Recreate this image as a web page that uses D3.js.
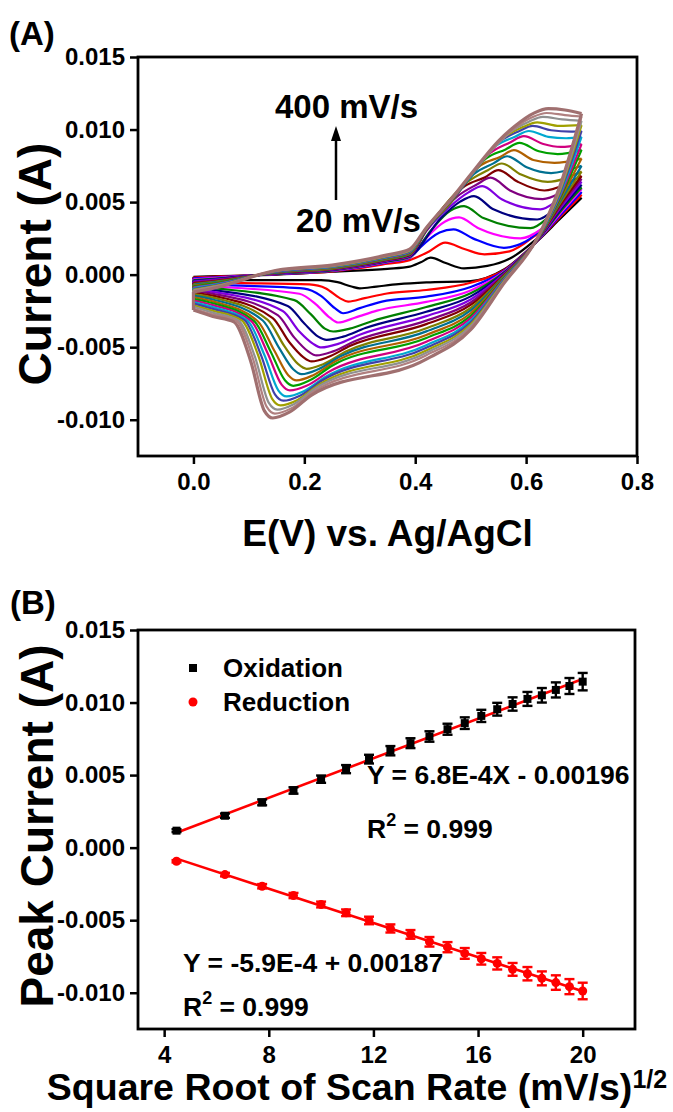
<!DOCTYPE html>
<html>
<head>
<meta charset="utf-8">
<script src="https://cdn.jsdelivr.net/npm/d3@7"></script>
<style>
  body { margin: 0; background: #fff; }
  svg text { font-family: "Liberation Sans", Arial, sans-serif; font-weight: bold; fill: #000; white-space: pre; }
</style>
</head>
<body>
<svg id="chart" width="673" height="1112"></svg>
<script>
// ---- data (currents in mA, converted to A on the tick labels) ----
const scanRates = [20, 40, 60, 80, 100, 120, 140, 160, 180, 200, 220, 240, 260, 280, 300, 320, 340, 360, 380, 400];

const oxidationPeak = [1.17, 2.20, 3.12, 3.94, 4.72, 5.41, 6.10, 6.68, 7.20, 7.66, 8.16, 8.58, 9.08, 9.54, 9.90, 10.25, 10.50, 10.87, 11.14, 11.44];
const oxidationErr = [0.10, 0.15, 0.20, 0.22, 0.25, 0.28, 0.30, 0.32, 0.34, 0.36, 0.38, 0.40, 0.42, 0.44, 0.46, 0.48, 0.50, 0.52, 0.55, 0.60];
const reductionPeak = [-0.94, -1.86, -2.66, -3.30, -3.92, -4.49, -5.02, -5.57, -5.98, -6.49, -6.86, -7.29, -7.66, -7.98, -8.39, -8.69, -9.01, -9.30, -9.58, -9.88];
const reductionErr = [0.08, 0.12, 0.15, 0.18, 0.20, 0.23, 0.26, 0.28, 0.30, 0.33, 0.35, 0.37, 0.40, 0.42, 0.44, 0.46, 0.48, 0.50, 0.52, 0.57];

const cvColors = ['#000000', '#ff0000', '#0000ff', '#ff00ff', '#008000', '#000080', '#8000e0', '#800080', '#800000', '#808000',
  '#007090', '#b06000', '#00a000', '#d0007f', '#00a8d0', '#4040a8', '#a0a000', '#909090', '#b08080', '#a07070'];

// anodic (forward) branches, [E (V), I (mA)], one row per scan rate
const cvForward = [
  [[0,-0.15],[0.04,-0.10],[0.15,0.00],[0.25,0.20],[0.35,0.40],[0.39,0.55],[0.41,0.85],[0.428,1.17],[0.455,0.80],[0.488,0.43],[0.53,0.60],[0.575,1.20],[0.62,2.50],[0.66,3.85],[0.70,5.30]],
  [[0,-0.21],[0.04,-0.14],[0.15,0.02],[0.25,0.22],[0.35,0.75],[0.39,1.00],[0.425,1.60],[0.454,2.20],[0.49,1.75],[0.525,1.40],[0.57,1.60],[0.62,2.80],[0.66,4.00],[0.70,5.50]],
  [[0,-0.26],[0.04,-0.18],[0.15,0.03],[0.25,0.25],[0.35,0.85],[0.39,1.15],[0.409,1.88],[0.444,2.90],[0.469,3.12],[0.504,2.50],[0.56,1.85],[0.60,2.30],[0.65,3.90],[0.70,5.70]],
  [[0,-0.32],[0.04,-0.23],[0.15,0.05],[0.25,0.27],[0.35,0.88],[0.39,1.19],[0.419,2.50],[0.454,3.66],[0.479,3.94],[0.514,3.20],[0.59,2.50],[0.63,3.20],[0.665,4.40],[0.70,5.90]],
  [[0,-0.37],[0.04,-0.27],[0.15,0.06],[0.25,0.30],[0.35,0.91],[0.39,1.22],[0.428,3.03],[0.463,4.39],[0.488,4.72],[0.523,3.90],[0.608,3.20],[0.645,4.10],[0.70,6.00]],
  [[0,-0.43],[0.04,-0.31],[0.15,0.08],[0.25,0.32],[0.35,0.94],[0.39,1.26],[0.446,3.88],[0.481,5.03],[0.506,5.41],[0.541,4.50],[0.62,3.80],[0.655,4.60],[0.70,6.20]],
  [[0,-0.48],[0.04,-0.35],[0.15,0.10],[0.25,0.34],[0.35,0.97],[0.39,1.29],[0.42,3.00],[0.461,4.63],[0.496,5.67],[0.521,6.10],[0.556,5.20],[0.626,4.50],[0.66,5.20],[0.70,6.40]],
  [[0,-0.54],[0.04,-0.39],[0.15,0.11],[0.25,0.37],[0.35,1.00],[0.39,1.33],[0.42,3.05],[0.476,5.40],[0.511,6.21],[0.536,6.68],[0.571,5.80],[0.63,5.20],[0.665,5.70],[0.70,6.60]],
  [[0,-0.59],[0.04,-0.44],[0.15,0.13],[0.25,0.39],[0.35,1.03],[0.39,1.36],[0.42,3.08],[0.49,6.12],[0.525,6.70],[0.55,7.20],[0.585,6.40],[0.633,5.80],[0.67,6.20],[0.70,6.80]],
  [[0,-0.65],[0.04,-0.48],[0.15,0.14],[0.25,0.42],[0.35,1.06],[0.39,1.40],[0.42,3.10],[0.496,6.44],[0.531,7.20],[0.556,7.66],[0.591,6.90],[0.639,6.40],[0.70,7.10]],
  [[0,-0.70],[0.04,-0.52],[0.15,0.16],[0.25,0.44],[0.35,1.09],[0.39,1.43],[0.42,3.12],[0.46,4.75],[0.506,6.94],[0.541,7.67],[0.566,8.16],[0.601,7.40],[0.645,7.00],[0.70,7.50]],
  [[0,-0.76],[0.04,-0.56],[0.15,0.18],[0.25,0.46],[0.35,1.12],[0.39,1.47],[0.42,3.14],[0.46,4.78],[0.518,7.53],[0.553,8.11],[0.578,8.58],[0.613,7.90],[0.651,7.70],[0.70,8.00]],
  [[0,-0.81],[0.04,-0.60],[0.15,0.19],[0.25,0.49],[0.35,1.15],[0.39,1.50],[0.42,3.16],[0.47,5.30],[0.528,8.01],[0.563,8.63],[0.588,9.08],[0.623,8.50],[0.657,8.30],[0.70,8.60]],
  [[0,-0.87],[0.04,-0.65],[0.15,0.21],[0.25,0.51],[0.35,1.18],[0.39,1.54],[0.42,3.17],[0.47,5.33],[0.536,8.41],[0.571,9.11],[0.596,9.54],[0.631,9.00],[0.663,8.80],[0.70,9.00]],
  [[0,-0.92],[0.04,-0.69],[0.15,0.22],[0.25,0.54],[0.35,1.21],[0.39,1.57],[0.42,3.18],[0.47,5.36],[0.50,6.78],[0.545,8.85],[0.58,9.50],[0.605,9.90],[0.64,9.50],[0.672,9.40],[0.70,9.50]],
  [[0,-0.98],[0.04,-0.73],[0.15,0.24],[0.25,0.56],[0.35,1.24],[0.39,1.61],[0.42,3.19],[0.47,5.38],[0.50,6.80],[0.552,9.16],[0.587,9.89],[0.612,10.25],[0.645,9.95],[0.681,9.85],[0.70,9.90]],
  [[0,-1.03],[0.04,-0.77],[0.15,0.26],[0.25,0.58],[0.35,1.27],[0.39,1.64],[0.42,3.20],[0.47,5.40],[0.50,6.83],[0.56,9.44],[0.595,10.19],[0.62,10.50],[0.66,10.25],[0.70,10.30]],
  [[0,-1.09],[0.04,-0.81],[0.15,0.27],[0.25,0.61],[0.35,1.30],[0.39,1.68],[0.42,3.21],[0.47,5.42],[0.50,6.85],[0.55,9.05],[0.57,9.78],[0.605,10.54],[0.63,10.87],[0.665,10.70],[0.70,10.60]],
  [[0,-1.14],[0.04,-0.86],[0.15,0.29],[0.25,0.63],[0.35,1.33],[0.39,1.71],[0.42,3.22],[0.47,5.44],[0.50,6.88],[0.55,9.12],[0.577,10.03],[0.612,10.86],[0.637,11.14],[0.67,11.00],[0.70,10.90]],
  [[0,-1.20],[0.04,-0.90],[0.15,0.30],[0.25,0.66],[0.35,1.36],[0.39,1.75],[0.42,3.24],[0.47,5.46],[0.50,6.90],[0.55,9.20],[0.58,10.25],[0.615,11.15],[0.64,11.44],[0.67,11.35],[0.70,11.10]]
];

// cathodic (reverse) branches, listed from 0 V up to the 0.7 V vertex
const cvReverse = [
  [[0,-0.35],[0.035,-0.38],[0.23,-0.38],[0.26,-0.52],[0.285,-0.82],[0.30,-0.94],[0.33,-0.82],[0.37,-0.66],[0.42,-0.54],[0.50,-0.45],[0.56,0.35],[0.62,2.30],[0.66,3.80],[0.70,5.30]],
  [[0,-0.46],[0.035,-0.54],[0.209,-0.67],[0.239,-0.95],[0.264,-1.62],[0.279,-1.86],[0.309,-1.62],[0.349,-1.30],[0.42,-1.06],[0.50,-0.56],[0.56,0.30],[0.62,2.31],[0.66,3.92],[0.70,5.50]],
  [[0,-0.57],[0.035,-0.67],[0.20,-0.96],[0.23,-1.46],[0.255,-2.31],[0.27,-2.66],[0.30,-2.31],[0.34,-1.86],[0.42,-1.52],[0.50,-0.85],[0.56,0.25],[0.62,2.32],[0.66,4.03],[0.70,5.70]],
  [[0,-0.68],[0.035,-0.80],[0.191,-1.32],[0.221,-2.05],[0.246,-2.97],[0.261,-3.30],[0.291,-2.97],[0.331,-2.48],[0.42,-1.88],[0.50,-1.09],[0.56,0.20],[0.62,2.33],[0.66,4.15],[0.70,5.90]],
  [[0,-0.79],[0.035,-0.93],[0.182,-1.76],[0.212,-2.74],[0.237,-3.72],[0.252,-3.92],[0.282,-3.72],[0.322,-3.21],[0.42,-2.23],[0.50,-1.29],[0.56,0.15],[0.62,2.34],[0.66,4.26],[0.70,6.00]],
  [[0,-0.90],[0.035,-1.06],[0.17,-2.16],[0.20,-3.37],[0.225,-4.27],[0.24,-4.49],[0.27,-4.27],[0.31,-3.68],[0.42,-2.56],[0.50,-1.50],[0.56,0.10],[0.62,2.35],[0.66,4.38],[0.70,6.20]],
  [[0,-1.01],[0.035,-1.19],[0.161,-2.51],[0.191,-3.92],[0.216,-4.77],[0.231,-5.02],[0.261,-4.77],[0.301,-4.12],[0.42,-2.86],[0.50,-1.71],[0.56,0.05],[0.62,2.36],[0.66,4.50],[0.70,6.40]],
  [[0,-1.12],[0.035,-1.32],[0.152,-2.79],[0.182,-4.34],[0.207,-5.29],[0.222,-5.57],[0.252,-5.29],[0.292,-4.57],[0.42,-3.17],[0.50,-1.92],[0.56,0.00],[0.62,2.37],[0.66,4.61],[0.70,6.60]],
  [[0,-1.23],[0.035,-1.45],[0.143,-2.99],[0.173,-4.66],[0.198,-5.68],[0.213,-5.98],[0.243,-5.68],[0.283,-4.90],[0.42,-3.41],[0.50,-2.09],[0.56,-0.05],[0.62,2.38],[0.66,4.73],[0.70,6.80]],
  [[0,-1.34],[0.035,-1.58],[0.134,-3.12],[0.164,-4.93],[0.189,-6.17],[0.204,-6.49],[0.234,-6.17],[0.274,-5.32],[0.42,-3.70],[0.50,-2.30],[0.56,-0.10],[0.62,2.39],[0.66,4.84],[0.70,7.10]],
  [[0,-1.45],[0.035,-1.71],[0.125,-3.16],[0.155,-5.08],[0.18,-6.52],[0.195,-6.86],[0.225,-6.52],[0.265,-5.63],[0.42,-3.91],[0.50,-2.47],[0.56,-0.15],[0.62,2.40],[0.66,4.96],[0.70,7.50]],
  [[0,-1.56],[0.035,-1.84],[0.116,-3.21],[0.146,-5.25],[0.171,-6.93],[0.186,-7.29],[0.216,-6.93],[0.256,-5.98],[0.42,-4.16],[0.50,-2.66],[0.56,-0.20],[0.62,2.41],[0.66,5.08],[0.70,8.00]],
  [[0,-1.67],[0.035,-1.97],[0.11,-3.22],[0.14,-5.36],[0.165,-7.28],[0.18,-7.66],[0.21,-7.28],[0.25,-6.28],[0.42,-4.37],[0.50,-2.84],[0.56,-0.25],[0.62,2.42],[0.66,5.19],[0.70,8.60]],
  [[0,-1.78],[0.035,-2.10],[0.104,-3.19],[0.134,-5.43],[0.159,-7.58],[0.174,-7.98],[0.204,-7.66],[0.244,-6.70],[0.42,-4.63],[0.50,-3.00],[0.56,-0.30],[0.62,2.43],[0.66,5.31],[0.70,9.00]],
  [[0,-1.89],[0.035,-2.23],[0.098,-3.19],[0.128,-5.54],[0.153,-7.97],[0.168,-8.39],[0.198,-8.05],[0.238,-7.05],[0.42,-4.87],[0.50,-3.17],[0.56,-0.35],[0.62,2.44],[0.66,5.42],[0.70,9.50]],
  [[0,-2.00],[0.035,-2.36],[0.092,-3.13],[0.122,-5.56],[0.147,-8.26],[0.162,-8.69],[0.192,-8.34],[0.232,-7.30],[0.42,-5.04],[0.50,-3.30],[0.56,-0.40],[0.62,2.45],[0.66,5.54],[0.70,9.90]],
  [[0,-2.11],[0.035,-2.49],[0.087,-3.15],[0.117,-5.59],[0.142,-8.56],[0.157,-9.01],[0.187,-8.65],[0.227,-7.57],[0.42,-5.23],[0.50,-3.43],[0.56,-0.45],[0.62,2.46],[0.66,5.66],[0.70,10.30]],
  [[0,-2.22],[0.035,-2.62],[0.081,-3.16],[0.111,-5.67],[0.136,-8.84],[0.151,-9.30],[0.181,-8.93],[0.221,-7.81],[0.42,-5.39],[0.50,-3.55],[0.56,-0.50],[0.62,2.47],[0.66,5.77],[0.70,10.60]],
  [[0,-2.33],[0.035,-2.75],[0.077,-3.16],[0.107,-5.75],[0.132,-9.10],[0.147,-9.58],[0.177,-9.20],[0.217,-8.05],[0.42,-5.56],[0.50,-3.68],[0.56,-0.55],[0.62,2.48],[0.66,5.89],[0.70,10.90]],
  [[0,-2.44],[0.035,-2.88],[0.073,-3.26],[0.103,-5.93],[0.128,-9.39],[0.143,-9.88],[0.173,-9.48],[0.213,-8.30],[0.42,-5.83],[0.50,-3.80],[0.56,-0.60],[0.62,2.50],[0.66,6.00],[0.70,11.10]]
];

const currentTicks = [-10, -5, 0, 5, 10, 15];
const potentialTicks = [0, 0.2, 0.4, 0.6, 0.8];
const rootRateTicks = [4, 8, 12, 16, 20];
const seriesNames = ['Oxidation', 'Reduction'];
const rateLabels = ['400 mV/s', '20 mV/s'];

// ---- layout ----
const svg = d3.select('#chart');
const plotA = { left: 138, right: 637, top: 57, bottom: 456 };
const plotB = { left: 138, right: 635, top: 630, bottom: 1029 };

const xA = d3.scaleLinear().domain([-0.1, 0.8]).range([plotA.left, plotA.right]);
const yA = d3.scaleLinear().domain([-12.5, 15]).range([plotA.bottom, plotA.top]);
const xB = d3.scaleLinear().domain([3, 22]).range([plotB.left, plotB.right]);
const yB = d3.scaleLinear().domain([-12.5, 15]).range([plotB.bottom, plotB.top]);

const fmtAmp = d => (d / 1000).toFixed(3);

function drawAxes(box, x, y, xTicks, xFmt) {
  const g = svg.append('g');

  g.append('g')
    .attr('transform', 'translate(0,' + box.bottom + ')')
    .call(d3.axisBottom(x).tickValues(xTicks).tickFormat(xFmt).tickSize(8).tickSizeOuter(0).tickPadding(9))
    .call(s => s.select('.domain').remove())
    .call(s => s.selectAll('line').attr('stroke', '#000').attr('stroke-width', 2.5))
    .call(s => s.selectAll('text').attr('font-size', 24).attr('fill', '#000'));

  g.append('g')
    .attr('transform', 'translate(' + box.left + ',0)')
    .call(d3.axisLeft(y).tickValues(currentTicks).tickFormat(fmtAmp).tickSize(8).tickSizeOuter(0).tickPadding(5))
    .call(s => s.select('.domain').remove())
    .call(s => s.selectAll('line').attr('stroke', '#000').attr('stroke-width', 2.5))
    .call(s => s.selectAll('text').attr('font-size', 24).attr('fill', '#000'));

  g.append('rect')
    .attr('x', box.left).attr('y', box.top)
    .attr('width', box.right - box.left).attr('height', box.bottom - box.top)
    .attr('fill', 'none').attr('stroke', '#000').attr('stroke-width', 2.8);
  return g;
}

// ---- panel A: cyclic voltammograms ----
const cvLine = d3.line()
  .x(d => xA(d[0]))
  .y(d => yA(d[1]))
  .curve(d3.curveMonotoneX);

const cvLayer = svg.append('g').attr('fill', 'none');
cvForward.forEach((fwd, i) => {
  const rev = cvReverse[i];
  const w = i === cvForward.length - 1 ? 3.2 : 2.2;
  const g = cvLayer.append('g')
    .attr('stroke', cvColors[i])
    .attr('stroke-width', w);
  g.append('line')
    .attr('x1', xA(0)).attr('x2', xA(0))
    .attr('y1', yA(fwd[0][1])).attr('y2', yA(rev[0][1]));
  g.append('path').attr('d', cvLine(rev));
  g.append('path').attr('d', cvLine(fwd));
});

drawAxes(plotA, xA, yA, potentialTicks, d => d.toFixed(1));

svg.append('text').attr('x', 9).attr('y', 45).attr('font-size', 33).text('(A)');

svg.append('text')
  .attr('x', 275).attr('y', 118).attr('font-size', 33)
  .text(rateLabels[0]);
svg.append('text')
  .attr('x', 296).attr('y', 232).attr('font-size', 33)
  .text(rateLabels[1]);
svg.append('line')
  .attr('x1', 336).attr('x2', 336).attr('y1', 200).attr('y2', 138)
  .attr('stroke', '#000').attr('stroke-width', 2.5);
svg.append('path')
  .attr('d', 'M336,126 L331,141 L341,141 Z')
  .attr('fill', '#000');

svg.append('text')
  .attr('transform', 'translate(51,264) rotate(-90)')
  .attr('text-anchor', 'middle').attr('font-size', 46)
  .text('Current (A)');
svg.append('text')
  .attr('x', (plotA.left + plotA.right) / 2).attr('y', 546)
  .attr('text-anchor', 'middle').attr('font-size', 37)
  .text('E(V) vs. Ag/AgCl');

// ---- panel B: peak current vs sqrt(scan rate) ----
const rootRate = scanRates.map(Math.sqrt);

function linearFit(xs, ys) {
  const mx = d3.mean(xs), my = d3.mean(ys);
  const sxy = d3.sum(xs, (v, i) => (v - mx) * (ys[i] - my));
  const sxx = d3.sum(xs, v => (v - mx) * (v - mx));
  const slope = sxy / sxx;
  return { slope, intercept: my - slope * mx };
}

drawAxes(plotB, xB, yB, rootRateTicks, d => d);

const series = [
  { name: seriesNames[0], values: oxidationPeak, err: oxidationErr, color: '#000', shape: 'square' },
  { name: seriesNames[1], values: reductionPeak, err: reductionErr, color: '#ff0000', shape: 'circle' }
];

const layerB = svg.append('g');
series.forEach(s => {
  const fit = linearFit(rootRate, s.values);
  const ext = d3.extent(rootRate);
  layerB.append('line')
    .attr('x1', xB(ext[0])).attr('y1', yB(fit.slope * ext[0] + fit.intercept))
    .attr('x2', xB(ext[1])).attr('y2', yB(fit.slope * ext[1] + fit.intercept))
    .attr('stroke', '#ff0000').attr('stroke-width', 2.6);
});

series.forEach(s => {
  const pts = layerB.append('g')
    .selectAll('g')
    .data(s.values.map((v, i) => ({ x: rootRate[i], y: v, e: s.err[i] })))
    .join('g')
    .attr('stroke', s.color).attr('fill', s.color).attr('stroke-width', 2.4);

  pts.append('line')
    .attr('x1', d => xB(d.x)).attr('x2', d => xB(d.x))
    .attr('y1', d => yB(d.y - d.e)).attr('y2', d => yB(d.y + d.e));
  pts.append('line')
    .attr('x1', d => xB(d.x) - 5).attr('x2', d => xB(d.x) + 5)
    .attr('y1', d => yB(d.y + d.e)).attr('y2', d => yB(d.y + d.e));
  pts.append('line')
    .attr('x1', d => xB(d.x) - 5).attr('x2', d => xB(d.x) + 5)
    .attr('y1', d => yB(d.y - d.e)).attr('y2', d => yB(d.y - d.e));
  if (s.shape === 'square') {
    pts.append('rect')
      .attr('x', d => xB(d.x) - 4).attr('y', d => yB(d.y) - 4)
      .attr('width', 8).attr('height', 8).attr('stroke', 'none');
  } else {
    pts.append('circle')
      .attr('cx', d => xB(d.x)).attr('cy', d => yB(d.y))
      .attr('r', 4.5).attr('stroke', 'none');
  }
});

// legend
const legend = svg.append('g').attr('transform', 'translate(193,668)');
series.forEach((s, i) => {
  const row = legend.append('g').attr('transform', 'translate(0,' + i * 34 + ')');
  if (s.shape === 'square') {
    row.append('rect').attr('x', -4).attr('y', -4).attr('width', 8).attr('height', 8).attr('fill', s.color);
  } else {
    row.append('circle').attr('r', 4.5).attr('fill', s.color);
  }
  row.append('text').attr('x', 30).attr('y', 9).attr('font-size', 26).text(s.name);
});

// fit annotations
function rSquared(g, x, y) {
  const t = g.append('text').attr('x', x).attr('y', y).attr('font-size', 26.5);
  t.append('tspan').text('R');
  t.append('tspan').attr('font-size', 18).attr('dy', -12).text('2');
  t.append('tspan').attr('dy', 12).text(' = 0.999');
}
svg.append('text').attr('x', 367).attr('y', 784).attr('font-size', 26.5).text('Y = 6.8E-4X - 0.00196');
rSquared(svg, 367, 838);
svg.append('text').attr('x', 183).attr('y', 972).attr('font-size', 26.5).text('Y = -5.9E-4 + 0.00187');
rSquared(svg, 183, 1016);

svg.append('text').attr('x', 10).attr('y', 614).attr('font-size', 33).text('(B)');

svg.append('text')
  .attr('transform', 'translate(53,826) rotate(-90)')
  .attr('text-anchor', 'middle').attr('font-size', 46)
  .text('Peak Current (A)');

const xt = svg.append('text')
  .attr('x', 357).attr('y', 1100)
  .attr('text-anchor', 'middle').attr('font-size', 37.5);
xt.append('tspan').text('Square Root of Scan Rate (mV/s)');
xt.append('tspan').attr('font-size', 25).attr('dy', -12).text('1/2');
</script>
</body>
</html>
